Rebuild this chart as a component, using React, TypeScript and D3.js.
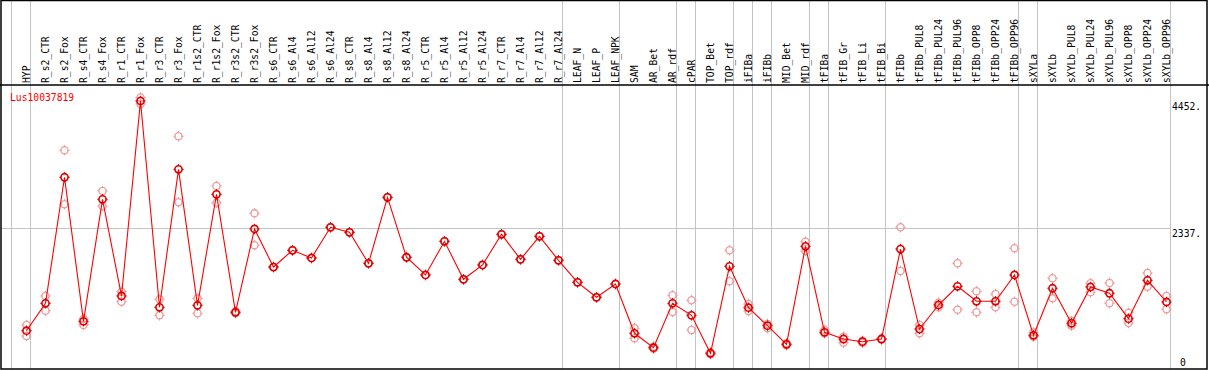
import React from "react";
import * as d3 from "d3";

const categories = [
  "HYP", "R_s2_CTR", "R_s2_Fox", "R_s4_CTR", "R_s4_Fox", "R_r1_CTR", "R_r1_Fox", "R_r3_CTR", "R_r3_Fox",
  "R_r1s2_CTR", "R_r1s2_Fox", "R_r3s2_CTR", "R_r3s2_Fox", "R_s6_CTR", "R_s6_Al4", "R_s6_Al12", "R_s6_Al24",
  "R_s8_CTR", "R_s8_Al4", "R_s8_Al12", "R_s8_Al24", "R_r5_CTR", "R_r5_Al4", "R_r5_Al12", "R_r5_Al24",
  "R_r7_CTR", "R_r7_Al4", "R_r7_Al12", "R_r7_Al24", "LEAF_N", "LEAF_P", "LEAF_NPK", "SAM", "AR_Bet", "AR_rdf",
  "cPAR", "TOP_Bet", "TOP_rdf", "iFIBa", "iFIBb", "MID_Bet", "MID_rdf", "tFIBa", "tFIB_Gr", "tFIB_Li", "tFIB_Bi",
  "tFIBb", "tFIBb_PUL8", "tFIBb_PUL24", "tFIBb_PUL96", "tFIBb_OPP8", "tFIBb_OPP24", "tFIBb_OPP96",
  "sXYLa", "sXYLb", "sXYLb_PUL8", "sXYLb_PUL24", "sXYLb_PUL96", "sXYLb_OPP8", "sXYLb_OPP24", "sXYLb_OPP96",
];

const meanValues = [
  636, 1091, 3185, 792, 2819, 1213, 4452, 1025, 3317, 1058, 2902, 942, 2326,
  1694, 1972, 1844, 2354, 2271, 1756, 2852, 1856, 1562, 2121, 1490, 1728,
  2238, 1822, 2204, 1806, 1440, 1191, 1412, 593, 354, 1091, 892, 261, 1706,
  1018, 719, 410, 2038, 610, 498, 454, 498, 1993, 664, 1063, 1374, 1125, 1125,
  1562, 560, 1341, 759, 1362, 1258, 836, 1473, 1113,
];

const replicateA = [
  731, 1213, 3633, 831, 2957, 1284, 4510, 1158, 3866, 1174, 3040, 958, 2586,
  1694, 1972, 1844, 2354, 2271, 1756, 2852, 1856, 1562, 2121, 1490, 1728,
  2238, 1822, 2204, 1806, 1440, 1191, 1412, 676, 370, 1224, 1141, 277, 1972,
  1080, 748, 427, 2115, 648, 537, 470, 507, 2354, 731, 1101, 1756, 1291, 1246,
  2005, 610, 1507, 797, 1424, 1429, 935, 1595, 1213,
];

const replicateB = [
  548, 968, 2736, 731, 2708, 1118, 4402, 892, 2769, 925, 2763, 925, 2055,
  1694, 1972, 1844, 2354, 2271, 1756, 2852, 1856, 1562, 2121, 1490, 1728,
  2238, 1822, 2204, 1806, 1440, 1191, 1412, 510, 337, 947, 648, 244, 1457,
  963, 676, 394, 1960, 593, 437, 437, 490, 1628, 593, 1025, 985, 942, 1025,
  1118, 537, 1174, 719, 1274, 1091, 764, 1367, 992,
];

const groupEnds = [
  "HYP", "R_r7_Al24", "LEAF_NPK", "AR_rdf", "cPAR", "TOP_rdf", "iFIBa", "iFIBb",
  "MID_rdf", "tFIBa", "tFIB_Bi", "tFIBb_OPP96", "sXYLa", "sXYLb_OPP96",
];

const yTicks = [2337];
const yMax = 4452;
const geneName = "Lus10037819";

const W = 1209;
const H = 370;
const FONT = "'DejaVu Sans Mono', 'Liberation Mono', monospace";

function Marker({ cx, cy, color, w }: { cx: number; cy: number; color: string; w: number }) {
  const r = 3.6;
  const t = 5.2;
  const d = `M${cx},${cy - t}V${cy - r + 0.5}M${cx},${cy + r - 0.5}V${cy + t}M${cx - t},${cy}H${cx - r + 0.5}M${cx + r - 0.5},${cy}H${cx + t}`;
  return (
    <g>
      <circle cx={cx} cy={cy} r={r} fill="none" stroke={color} strokeWidth={w} />
      <path d={d} stroke={color} strokeWidth={1} />
    </g>
  );
}

export default function App() {
  const x = d3.scalePoint<string>().domain(categories).range([26.5, 1166.5]);
  const y = d3.scaleLinear().domain([0, yMax]).range([369, 101]);
  const step = x.step();
  const sepX = [x("HYP")! - step + 3.8, ...groupEnds.map((c) => x(c)! + 3.8)];

  const line = d3
    .line<number>()
    .x((_, i) => x(categories[i])!)
    .y((d) => y(d));

  return (
    <svg width={W} height={H} style={{ position: "absolute", left: 0, top: 0, background: "#fff" }}>
      <rect x={0} y={0} width={W} height={H} fill="#fff" />
      {/* separators */}
      {sepX.map((sx, i) => (
        <line key={i} x1={Math.round(sx) + 0.5} x2={Math.round(sx) + 0.5} y1={0} y2={369} stroke="#c4c4c4" strokeWidth={1} />
      ))}
      {/* grid */}
      {yTicks.map((t) => (
        <line key={t} x1={1} x2={1170} y1={Math.round(y(t)) + 0.5} y2={Math.round(y(t)) + 0.5} stroke="#c4c4c4" strokeWidth={1} />
      ))}
      {/* frame */}
      <rect x={1} y={0.5} width={1206} height={368.5} fill="none" stroke="#000" strokeWidth={1.5} />
      <line x1={0} x2={W} y1={85} y2={85} stroke="#000" strokeWidth={1.5} />
      {/* header labels */}
      {categories.map((c) => (
        <text
          key={c}
          transform={`translate(${x(c)! + 3.6},83) rotate(-90)`}
          fontFamily={FONT}
          fontSize={9.7}
          fill="#000"
        >
          {c}
        </text>
      ))}
      {/* y labels */}
      {[yMax, ...yTicks].map((t) => (
        <text key={t} x={1172} y={y(t) + 8.5} fontFamily={FONT} fontSize={9.7} fill="#000">
          {`${t}.`}
        </text>
      ))}
      <text x={1180} y={366} fontFamily={FONT} fontSize={9.7} fill="#000">0</text>
      <text x={10} y={100.5} fontFamily={FONT} fontSize={9.7} fill="#ff0000">{geneName}</text>
      {/* replicates */}
      {[replicateA, replicateB].map((arr, k) =>
        arr.map((v, i) => (
          <Marker key={`r${k}-${i}`} cx={x(categories[i])!} cy={y(v)} color="#f09a9a" w={1.3} />
        ))
      )}
      {/* mean line */}
      <path d={line(meanValues)!} fill="none" stroke="#ff0000" strokeWidth={1.1} />
      {meanValues.map((v, i) => (
        <Marker key={`m${i}`} cx={x(categories[i])!} cy={y(v)} color="#e00000" w={1.6} />
      ))}
    </svg>
  );
}
